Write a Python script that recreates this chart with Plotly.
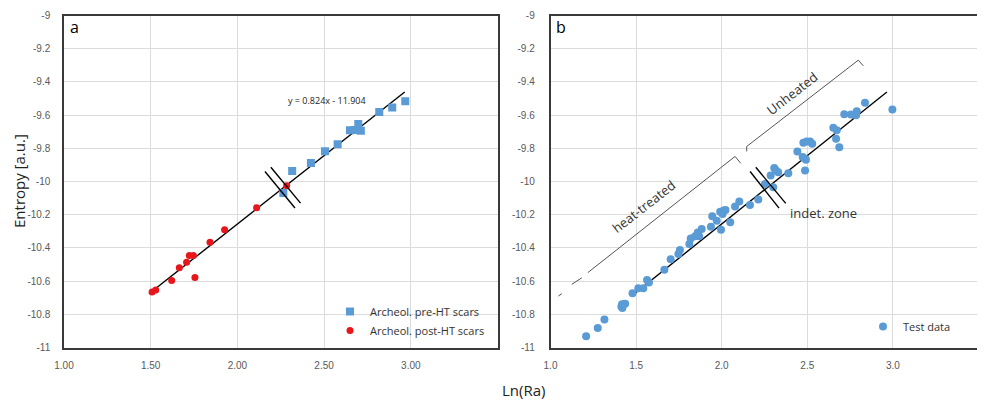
import numpy as np
import plotly.graph_objects as go

# ---------------- data ----------------
pre_ht_x = [2.968, 2.893, 2.818, 2.697, 2.649, 2.676, 2.712, 2.578, 2.505, 2.424, 2.316, 2.265]
pre_ht_y = [-9.516, -9.554, -9.582, -9.654, -9.692, -9.690, -9.694, -9.776, -9.818, -9.888, -9.936, -10.070]

post_ht_x = [2.284, 2.111, 1.926, 1.842, 1.746, 1.723, 1.707, 1.665, 1.621, 1.755, 1.529, 1.508]
post_ht_y = [-10.026, -10.158, -10.290, -10.366, -10.446, -10.446, -10.486, -10.520, -10.596, -10.578, -10.654, -10.666]

test_x = [1.208, 1.276, 1.315, 1.414, 1.418, 1.436, 1.420, 1.479, 1.513, 1.542, 1.564, 1.575,
          1.665, 1.702, 1.747, 1.756, 1.811, 1.819, 1.845, 1.860, 1.868, 1.883, 1.937, 1.945,
          1.971, 1.996, 1.991, 2.005, 2.012, 2.022, 2.050, 2.078, 2.103, 2.165, 2.214, 2.253,
          2.286, 2.301, 2.307, 2.317, 2.330, 2.389, 2.442, 2.477, 2.496, 2.516, 2.529, 2.473,
          2.487, 2.492, 2.487, 2.652, 2.672, 2.668, 2.687, 2.716, 2.755, 2.789, 2.785, 2.837, 2.997]
test_y = [-10.932, -10.882, -10.831, -10.753, -10.740, -10.737, -10.762, -10.673, -10.643, -10.643,
          -10.593, -10.609, -10.532, -10.468, -10.437, -10.413, -10.377, -10.343, -10.330, -10.307,
          -10.330, -10.286, -10.272, -10.210, -10.236, -10.290, -10.182, -10.196, -10.175, -10.172,
          -10.246, -10.150, -10.121, -10.141, -10.109, -10.015, -9.964, -10.035, -9.918, -9.934,
          -9.944, -9.950, -9.819, -9.766, -9.759, -9.759, -9.772, -9.853, -9.863, -9.869, -9.934,
          -9.676, -9.692, -9.742, -9.793, -9.595, -9.597, -9.577, -9.601, -9.525, -9.567]

fit_slope = 0.824
fit_intercept = -11.904
fit_x_range = [1.49, 2.965]

y_ticks = [-9, -9.2, -9.4, -9.6, -9.8, -10, -10.2, -10.4, -10.6, -10.8, -11]
y_tick_labels = ["-9", "-9.2", "-9.4", "-9.6", "-9.8", "-10", "-10.2", "-10.4", "-10.6", "-10.8", "-11"]
xa_ticks = [1.0, 1.5, 2.0, 2.5, 3.0]
xa_tick_labels = ["1.00", "1.50", "2.00", "2.50", "3.00"]
xb_ticks = [1.0, 1.5, 2.0, 2.5, 3.0, 3.5]
xb_tick_labels = ["1.0", "1.5", "2.0", "2.5", "3.0", "3.5"]

# decorative guide lines (data coordinates)
slash_a = [[(2.159, -9.94), (2.332, -10.16)], [(2.193, -9.914), (2.364, -10.13)]]
slash_b = [[(2.166, -9.94), (2.335, -10.16)], [(2.199, -9.914), (2.374, -10.132)]]
heat_bracket = [[(1.046, -10.69), (1.066, -10.676)],
                [(1.124, -10.62), (1.183, -10.58)],
                [(1.218, -10.549), (2.078, -9.849)],
                [(2.078, -9.849), (2.111, -9.89)]]
unheated_bracket = [[(2.146, -9.819), (2.146, -9.789)],
                    [(2.146, -9.789), (2.798, -9.269)],
                    [(2.798, -9.269), (2.827, -9.303)]]

# ---------------- figure ----------------
# the page has an 8px body margin, so the figure starts at (8, 8)
OFF = 8
W, H = 985 - OFF, 404 - OFF
def px_x(p):
    return (p - OFF) / W
def px_y(p):
    return (H - (p - OFF)) / H

BLUE = "#5b9bd5"
RED = "#e8161b"
TICKC = "#595959"
FONT = "Open Sans, Noto Sans, sans-serif"

fig = go.Figure()

fit_x = np.array(fit_x_range)
fit_y = fit_slope * fit_x + fit_intercept

fig.add_trace(go.Scatter(x=fit_x, y=fit_y, mode="lines", line=dict(color="black", width=1.4),
                         showlegend=False, xaxis="x", yaxis="y", hoverinfo="skip"))
fig.add_trace(go.Scatter(x=pre_ht_x, y=pre_ht_y, mode="markers", name="Archeol. pre-HT scars",
                         marker=dict(symbol="square", size=8, color=BLUE),
                         xaxis="x", yaxis="y", legend="legend"))
fig.add_trace(go.Scatter(x=post_ht_x, y=post_ht_y, mode="markers", name="Archeol. post-HT scars",
                         marker=dict(symbol="circle", size=7, color=RED),
                         xaxis="x", yaxis="y", legend="legend"))

fig.add_trace(go.Scatter(x=fit_x, y=fit_y, mode="lines", line=dict(color="black", width=1.4),
                         showlegend=False, xaxis="x2", yaxis="y2", hoverinfo="skip"))
fig.add_trace(go.Scatter(x=test_x, y=test_y, mode="markers", name="Test data",
                         marker=dict(symbol="circle", size=8, color=BLUE),
                         xaxis="x2", yaxis="y2", legend="legend2"))

shapes = []
def add_lines(segs, xref, yref, color, width):
    for (x0, y0), (x1, y1) in segs:
        shapes.append(dict(type="line", xref=xref, yref=yref, x0=x0, y0=y0, x1=x1, y1=y1,
                           line=dict(color=color, width=width)))

add_lines(slash_a, "x", "y", "black", 1.4)
add_lines(slash_b, "x2", "y2", "black", 1.4)
add_lines(heat_bracket, "x2", "y2", "#555555", 1)
add_lines(unheated_bracket, "x2", "y2", "#555555", 1)

ydom = [px_y(347.5), px_y(15.5)]
axis_common = dict(showline=True, mirror=True, linecolor="#3a3a3a", linewidth=1.5,
                   showgrid=True, gridcolor="#dcdcdc", gridwidth=1, zeroline=False,
                   automargin=False,
                   ticks="", tickfont=dict(family="Liberation Sans, Arial, sans-serif", size=10, color=TICKC))

fig.update_layout(
    template="none",
    width=W, height=H,
    margin=dict(l=0, r=0, t=0, b=0, pad=0),
    paper_bgcolor="white", plot_bgcolor="white",
    xaxis=dict(domain=[px_x(64), px_x(497.5)], range=[1.0, 3.5], anchor="y",
               tickvals=xa_ticks, ticktext=xa_tick_labels, ticklabelstandoff=8, **axis_common),
    yaxis=dict(domain=ydom, range=[-11, -9], anchor="x",
               tickvals=y_ticks, ticktext=y_tick_labels, ticklabelstandoff=10, **axis_common),
    xaxis2=dict(domain=[px_x(550.5), px_x(978.5)], range=[1.0, 3.5], anchor="y2",
                tickvals=xb_ticks, ticktext=xb_tick_labels, ticklabelstandoff=8, **axis_common),
    yaxis2=dict(domain=ydom, range=[-11, -9], anchor="x2",
                tickvals=y_ticks, ticktext=y_tick_labels, ticklabelstandoff=12, **axis_common),
    legend=dict(x=px_x(330), y=px_y(297), xanchor="left", yanchor="top",
                bgcolor="rgba(0,0,0,0)", font=dict(family=FONT, size=11, color="#333333"),
                tracegroupgap=0),
    legend2=dict(x=px_x(863), y=px_y(312), xanchor="left", yanchor="top",
                 bgcolor="rgba(0,0,0,0)", font=dict(family=FONT, size=11, color="#333333")),
    shapes=shapes,
    showlegend=True,
    font=dict(family=FONT),
)

annotations = [
    dict(text="a", x=px_x(68), y=px_y(27), xref="paper", yref="paper", xanchor="left", yanchor="middle",
         showarrow=False, font=dict(family=FONT, size=16, color="black")),
    dict(text="b", x=px_x(554), y=px_y(27), xref="paper", yref="paper", xanchor="left", yanchor="middle",
         showarrow=False, font=dict(family=FONT, size=16, color="black")),
    dict(text="Entropy [a.u.]", x=px_x(19), y=px_y(181), xref="paper", yref="paper", textangle=-90,
         xanchor="center", yanchor="middle",
         showarrow=False, font=dict(family=FONT, size=15, color="#222222")),
    dict(text="Ln(Ra)", x=px_x(523), y=px_y(390), xref="paper", yref="paper",
         xanchor="center", yanchor="middle",
         showarrow=False, font=dict(family=FONT, size=15, color="#222222")),
    dict(text="y = 0.824x - 11.904", x=2.514, y=-9.514, xref="x", yref="y",
         showarrow=False, font=dict(family=FONT, size=9, color="#222222")),
    dict(text="heat-treated", x=1.548, y=-10.15, xref="x2", yref="y2", textangle=-38,
         showarrow=False, font=dict(family=FONT, size=13, color="#333333")),
    dict(text="Unheated", x=2.413, y=-9.466, xref="x2", yref="y2", textangle=-38,
         showarrow=False, font=dict(family=FONT, size=13, color="#333333")),
    dict(text="indet. zone", x=2.39, y=-10.192, xref="x2", yref="y2", xanchor="left",
         showarrow=False, font=dict(family=FONT, size=13, color="#333333")),
]
fig.update_layout(annotations=annotations)

fig.write_html("out.html")
